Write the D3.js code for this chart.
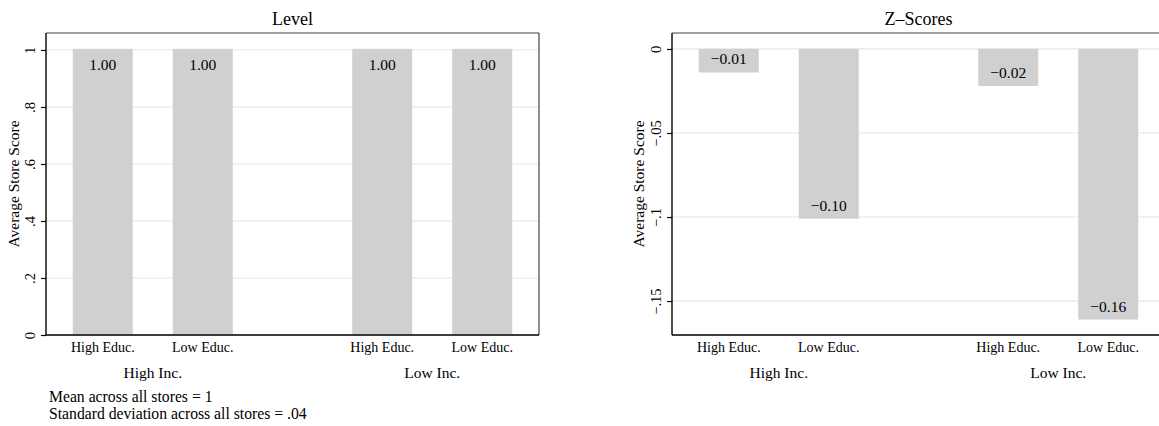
<!DOCTYPE html>
<html>
<head>
<meta charset="utf-8">
<script src="https://cdn.jsdelivr.net/npm/d3@7"></script>
<style>
  html, body { margin: 0; padding: 0; background: #fff; }
  svg { display: block; font-family: "Liberation Serif", "Times New Roman", serif; }
</style>
</head>
<body>
<svg id="chart" width="1159" height="426"></svg>
<script>
// ---- data ----
const groups = ["High Inc.", "Low Inc."];
const educ = ["High Educ.", "Low Educ."];
const levelValues = [1.004, 1.004, 1.004, 1.004];   // order: HighInc-HighEduc, HighInc-LowEduc, LowInc-HighEduc, LowInc-LowEduc
const zValues = [-0.014, -0.101, -0.022, -0.161];
const levelTicks = [0, 0.2, 0.4, 0.6, 0.8, 1];
const levelTickLabels = ["0", ".2", ".4", ".6", ".8", "1"];
const zTicks = [0, -0.05, -0.1, -0.15];
const zTickLabels = ["0", "\u2212.05", "\u2212.1", "\u2212.15"];
const panelTitles = ["Level", "Z\u2013Scores"];
const yTitle = "Average Store Score";
const notes = ["Mean across all stores = 1", "Standard deviation across all stores = .04"];

const svg = d3.select("#chart");

const BAR = "#d0d0d0", GRID = "#e6e6e6";

function panel(cfg) {
  const {x0, x1, y0, y1, yDomain, ticks, tickLabels, values, title} = cfg;
  const g = svg.append("g");
  const y = d3.scaleLinear().domain(yDomain).range([y1, y0]);
  const outer = d3.scalePoint().domain(groups).range([x0, x1]).padding(0.382);
  const inner = d3.scaleBand().domain(educ).range([-100, 100]).paddingInner(0.4).paddingOuter(0.2);

  const data = [];
  groups.forEach((gr, i) => educ.forEach((ed, j) => data.push({gr, ed, v: values[i * 2 + j]})));

  // gridlines
  g.selectAll("line.grid").data(ticks).join("line")
    .attr("x1", x0).attr("x2", x1)
    .attr("y1", d => y(d)).attr("y2", d => y(d))
    .attr("stroke", GRID).attr("stroke-width", 1.2);

  // bars
  g.selectAll("rect.bar").data(data).join("rect")
    .attr("x", d => outer(d.gr) + inner(d.ed))
    .attr("width", inner.bandwidth())
    .attr("y", d => Math.min(y(0), y(d.v)))
    .attr("height", d => Math.abs(y(d.v) - y(0)))
    .attr("fill", BAR);

  // bar labels
  g.selectAll("text.blab").data(data).join("text")
    .attr("x", d => outer(d.gr) + inner(d.ed) + inner.bandwidth() / 2)
    .attr("y", d => d.v >= 0 ? y(d.v) + 21.5 : y(d.v) - 8)
    .attr("text-anchor", "middle")
    .attr("font-size", 15.5)
    .attr("fill", "#000")
    .text(d => (d.v < 0 ? "\u2212" : "") + Math.abs(d.v).toFixed(2));

  // frame top and right
  g.append("line").attr("x1", x0).attr("x2", x1).attr("y1", y0).attr("y2", y0)
    .attr("stroke", "#444").attr("stroke-width", 1.2);
  g.append("line").attr("x1", x1).attr("x2", x1).attr("y1", y0).attr("y2", y1)
    .attr("stroke", "#444").attr("stroke-width", 1.2);

  // left axis
  const yAxis = d3.axisLeft(y).tickValues(ticks).tickSize(5).tickPadding(5)
    .tickFormat((d, i) => tickLabels[i]);
  const ya = g.append("g").attr("transform", `translate(${x0},0)`).call(yAxis);
  ya.select(".domain").attr("d", `M0,${y0}V${y1}`).attr("stroke", "#000").attr("stroke-width", 1.4);
  ya.selectAll(".tick line").attr("stroke", "#000").attr("stroke-width", 1.2);
  ya.selectAll(".tick text")
    .attr("font-family", "Liberation Serif")
    .attr("font-size", 14.5).attr("fill", "#000")
    .attr("transform", "rotate(-90)")
    .attr("text-anchor", "middle")
    .attr("x", 0).attr("dy", 0).attr("y", -11.5);

  // bottom axis line
  g.append("line").attr("x1", x0).attr("x2", x1).attr("y1", y1).attr("y2", y1)
    .attr("stroke", "#000").attr("stroke-width", 1.4);

  // x category labels
  g.selectAll("text.xlab").data(data).join("text")
    .attr("x", d => outer(d.gr) + inner(d.ed) + inner.bandwidth() / 2)
    .attr("y", y1 + 17)
    .attr("text-anchor", "middle").attr("font-size", 14).attr("fill", "#000")
    .text(d => d.ed);
  g.selectAll("text.glab").data(groups).join("text")
    .attr("x", d => outer(d))
    .attr("y", y1 + 43)
    .attr("text-anchor", "middle").attr("font-size", 15.5).attr("fill", "#000")
    .text(d => d);

  // title
  g.append("text").attr("x", (x0 + x1) / 2).attr("y", 25)
    .attr("text-anchor", "middle").attr("font-size", 18).attr("fill", "#000")
    .text(title);

  // y title
  g.append("text")
    .attr("transform", `translate(${cfg.yTitleX},${(y0 + y1) / 2}) rotate(-90)`)
    .attr("text-anchor", "middle").attr("font-size", 15.5).attr("fill", "#000")
    .text(yTitle);
}

panel({x0: 46, x1: 539, y0: 33, y1: 335, yDomain: [0, 1.0596], ticks: levelTicks,
  tickLabels: levelTickLabels, values: levelValues, title: panelTitles[0], yTitleX: 19});
panel({x0: 672, x1: 1165, y0: 33, y1: 335, yDomain: [-0.1702, 0.0095], ticks: zTicks,
  tickLabels: zTickLabels, values: zValues, title: panelTitles[1], yTitleX: 644});

// notes
svg.selectAll("text.note").data(notes).join("text")
  .attr("x", 49).attr("y", (d, i) => 402 + i * 16.5)
  .attr("font-size", 15.7).attr("fill", "#000")
  .text(d => d);
</script>
</body>
</html>
